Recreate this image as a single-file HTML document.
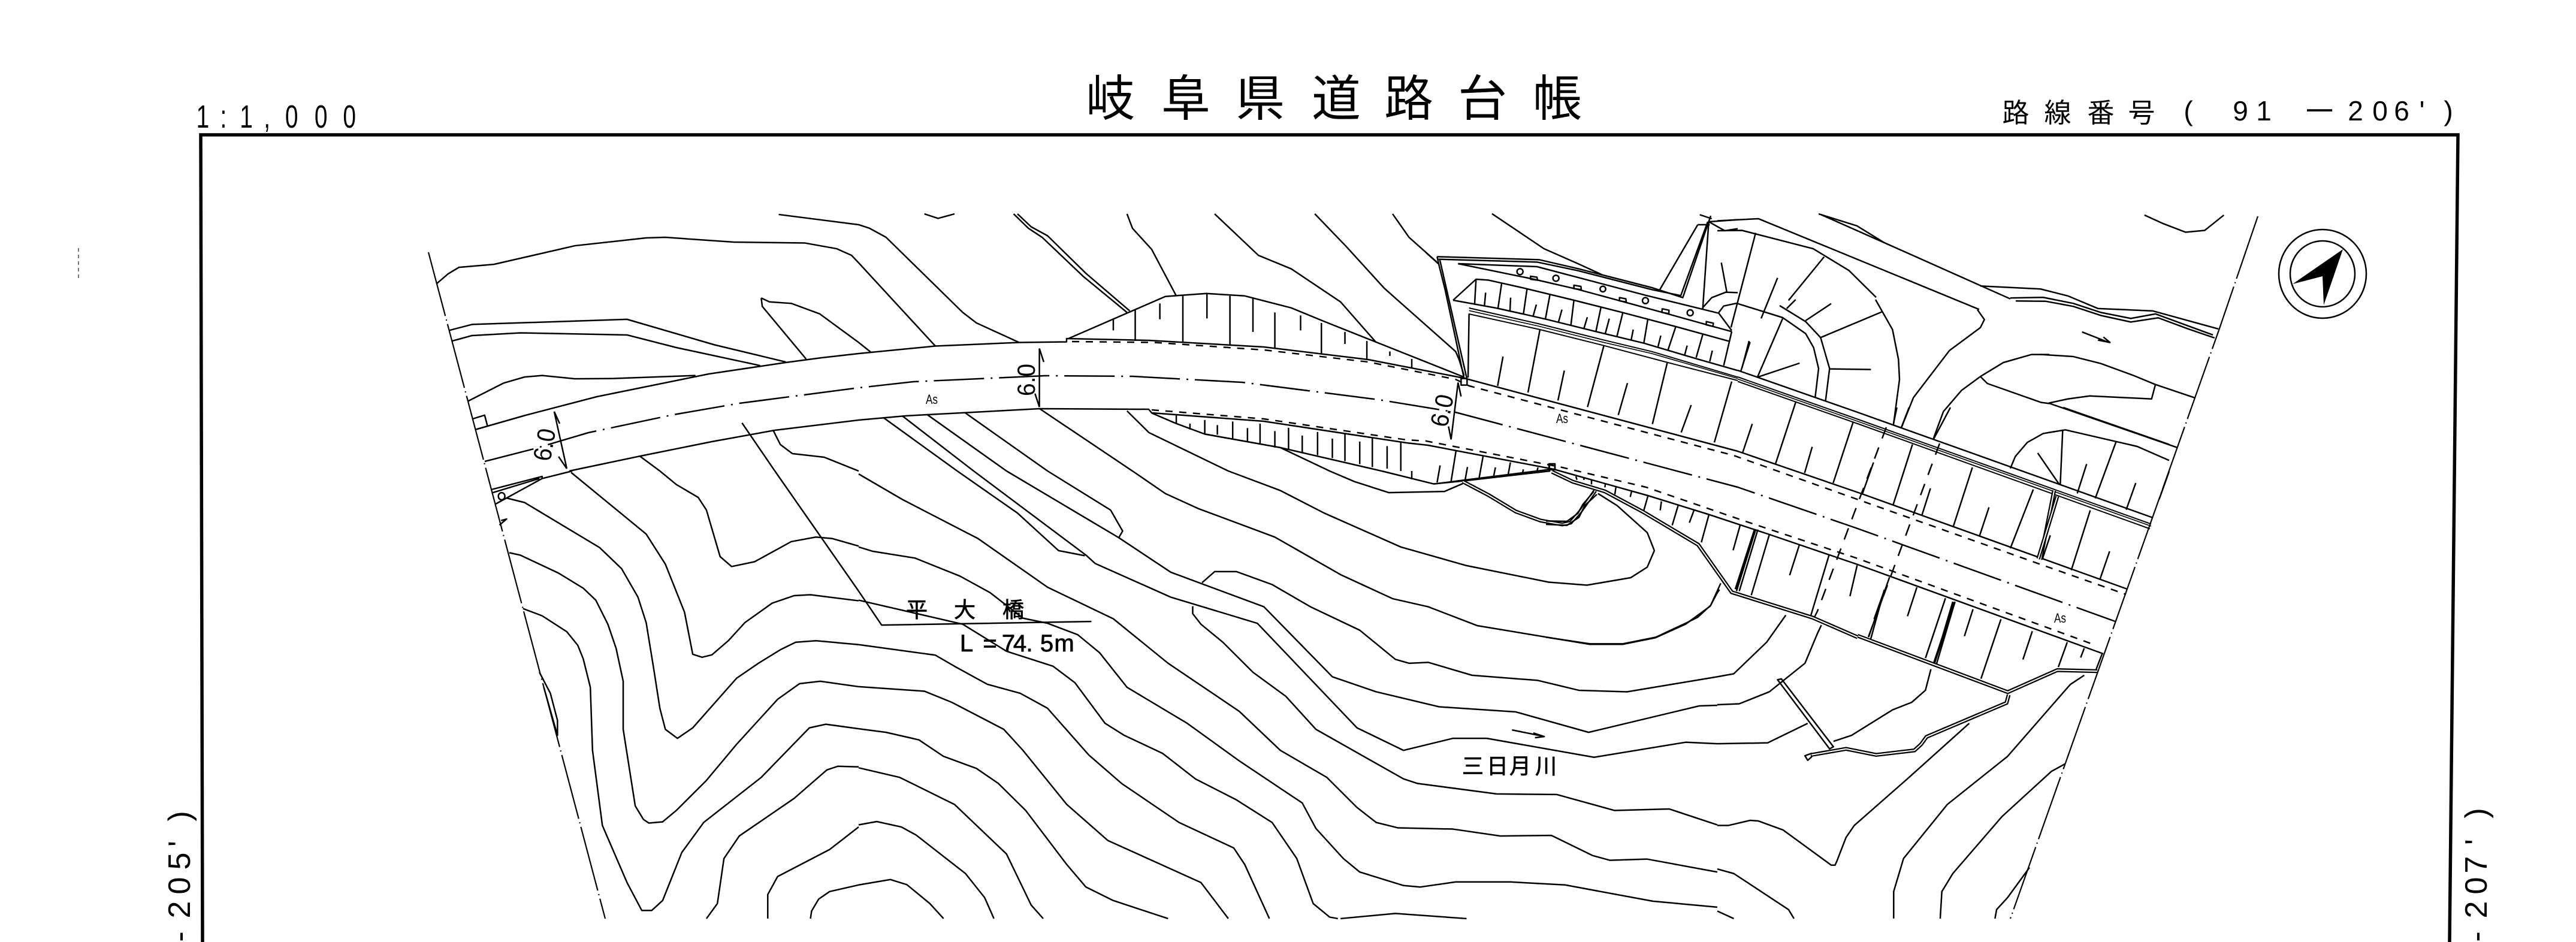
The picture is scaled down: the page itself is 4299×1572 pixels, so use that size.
<!DOCTYPE html>
<html lang="ja"><head><meta charset="utf-8"><title>岐阜県道路台帳</title>
<style>
html,body{margin:0;padding:0;background:#fff}
svg{display:block}
path,ellipse,rect,line,use{vector-effect:non-scaling-stroke}
.l path,.l rect,.l ellipse{fill:none;stroke:#000;stroke-width:2.5;stroke-linejoin:round}
.k{fill:none;stroke:#000;stroke-width:6.5}
.w{fill:none;stroke:#fff;stroke-width:2}
text{fill:#000;font-family:"Liberation Sans","Noto Sans CJK JP",sans-serif}
.j{font-family:"Noto Sans CJK JP","Liberation Sans",sans-serif;text-anchor:middle}
.c{text-anchor:middle}
.b{stroke:#000;stroke-width:.8}
</style></head><body>
<svg xmlns="http://www.w3.org/2000/svg" width="4299" height="1572" viewBox="0 0 4299 1572">
<rect width="4299" height="1572" fill="#fff"/>
<path d="M338 1572 335 225 4102 225 4088 1572" fill="none" stroke="#000" stroke-width="5.5"/>
<path d="M131 414V466" stroke="#777" stroke-width="2" stroke-dasharray="6 5" fill="none"/>

<defs>
<path id="st1" d="M1103 35 1150 80 1200 135 1245 165 1285 178 1300 172 1320 130 1345 65"/>
<path id="st2" d="M532 745 528 772 382 885 372 910 360 930 290 945 235 925 172 945"/>
<path id="wa1" d="M30 262 135 312 295 360 485 462 762 627 930 865 1335 992 1560 1090"/>
<path id="wa2" d="M0 1143 752 1425 1000 1315 1200 1320"/>
<path id="wa3" d="M1000 445 905 757"/>
<path id="wa4" d="M615 65 590 295"/>
</defs>

<!-- global-coordinate lines -->
<g class="l">
<path d="M715 421 1010 1533" stroke-dasharray="110 6 2 6" style="stroke-width:2.2"/>
<path d="M3768 361 3703 551 3355 1533" stroke-dasharray="110 6 2 6" style="stroke-width:2.2"/>
<path d="M809 770 891 749 982 722 1124 692 1234 673 1426 648 1524 637 1744 627 1890 628 2073 638 2301 667 2429 688 2900 813 3100 882 3530 1037" stroke-dasharray="84 11 3 11"/>
<path d="M1789 570 1927 571.5 2109 584 2283 604 2429 633 2452 644 2893 760 3420 947 3548 992" stroke-dasharray="12 11"/>
<path d="M1922 684 2109 699 2347 734 2380 736 2607 780 2747 813 2913 870 3100 932 3498 1077" stroke-dasharray="12 11"/>
<path d="M793 717 877 693 996 662 1183 624 1311 605 1371 597 1433 590 1561 577.5 1701 571.5 1780 570.5 1780 565 1917 568 2109 579 2283 600 2443 631 2900 753 3107 824 3550 983"/>
<path d="M950 786 1069 761 1188 737 1293 718 1433 701 1511 694 1735 682 1917 683 1922 689 2109 703 2347 739 2383 743 2593 783 2750 827 2850 858 2953 892 3100 942 3510 1091"/>
<path d="M3148 713 3033 1020 3028 1030" stroke-dasharray="20 16"/>
<path d="M3237 740 3118 1063" stroke-dasharray="20 16"/>
<path d="M2900 618 3100 688 3593 864"/>
<path d="M2900 629 3100 699.5 3590 874.5" style="stroke-width:2"/>
<path d="M2900 632.5 3100 703 3590 878" style="stroke-width:1.6"/>
<path d="M2900 636.5 3100 707 3588 882.5" style="stroke-width:2"/>
</g>

<!-- tile 1 -->
<g class="l" transform="translate(0 0) scale(.9139 .5013)">
<path d="M797 945 818 912 838 890 902 880 1050 818 1180 792 1215 790 1340 806 1470 809 1528 828 1555 850 1568 875"/>
<path d="M1422 714 1568 748"/>
<path d="M1390 992 1405 1005 1445 1010 1497 1045 1568 1140"/>
<path d="M1390 992 1392 1020 1472 1195"/>
<path d="M820 1100 862 1080 1145 1063 1305 1148 1435 1205"/>
<path d="M826 1135 862 1117 950 1108 1145 1115 1235 1157 1388 1217"/>
<path d="M855 1335 920 1275 958 1255 990 1250 1050 1261 1120 1260 1270 1250"/>
<path d="M862 1395 885 1382 890 1417"/>
<path d="M1355 1408 1415 1568"/>
<path d="M1412 1433 1425 1480 1447 1510 1505 1522 1568 1568"/>
<path d="M1168 1518 1205 1568"/>
<path d="M1012 1370 1035 1560M1012 1370 1022 1410M1035 1560 1020 1520"/>
</g>

<!-- tile 2 -->
<g class="l" transform="translate(1433 0) scale(.9139 .5013)">
<path d="M0 748 20 760 50 790 190 1040 215 1075 293 1140"/>
<path d="M0 875 140 1152"/>
<path d="M0 1140 22 1172"/>
<path d="M120 712 145 727 175 712"/>
<path d="M283 712 310 760 335 790 410 920 490 1040"/>
<path d="M290 712 315 755 345 785 415 910 495 1035"/>
<path d="M490 712 500 760 535 830 580 985"/>
<path d="M650 712 730 850 790 895 880 1005 945 1140"/>
<path d="M833 712 890 820 960 960 1090 1170"/>
<path d="M975 712 1005 790 1055 871"/>
<path d="M383 1127 560 987 635 977 705 985 790 1025 850 1070 1105 1255"/>
<path d="M505 1030V1135M592 985V1138M678 985V1150M760 1040V1160M845 1075V1180M928 1135V1198M1010 1195V1225M465 1060V1100M550 1010V1063M636 977V1060M720 990V1105M807 1050V1100M888 1105V1145M970 1170V1185"/>
<path d="M330 1160V1355M330 1160 338 1205M330 1355 322 1310"/>
<path d="M45 1390 180 1568M80 1385 210 1568M125 1380 270 1568M195 1375 345 1568M330 1360 500 1568M490 1368 530 1440 675 1568M632 1445 770 1490 860 1568"/>
<path d="M535 1375 580 1410 632 1445 770 1490 955 1568"/>
<path d="M580 1383V1410M632 1398V1445M683 1403V1462M733 1410V1480M785 1424V1497M838 1438V1515M888 1445V1535M938 1458V1555M990 1472V1568M605 1410V1430M655 1415V1447M710 1425V1470M760 1435V1490M810 1450V1505M865 1460V1525M915 1470V1545M965 1485V1560"/>
</g>

<!-- tile 3 -->
<g class="l" transform="translate(2866 0) scale(.9139 .5013)">
<path d="M0 735 75 728 478 1030"/>
<path d="M0 768 45 767 175 828 240 900 290 990"/>
<path d="M190 715 305 808 535 995"/>
<path d="M185 712 255 752 305 808"/>
<path d="M480 952 590 962 640 985 695 1027 795 1035 915 1095"/>
<path d="M535 992 595 990 650 1010 700 1040 755 1060 800 1045 860 1085 905 1115"/>
<path d="M545 1002 600 1003 650 1020 700 1050 755 1072 805 1058 860 1095 908 1125"/>
<path d="M666 1105 715 1140M695 1132 717 1140 705 1122"/>
<path d="M780 716 815 745 855 773 890 767 925 716"/>
<path d="M590 1180 650 1187 700 1210 760 1250 800 1280 873 1325"/>
<path d="M605 1342 840 1490"/>
<path d="M605 1342 640 1328 680 1318 793 1328 800 1280"/>
<path d="M70 775 25 1090M195 855 130 1000M110 925 80 1060M58 1135 45 1225"/>
</g>

<!-- tile 4 -->
<g class="l" transform="translate(0 786) scale(.9139 .5013)">
<path d="M1045 0 990 25 905 110M897 62 990 18 990 25M900 72 985 25"/>
<ellipse cx="916" cy="84" rx="6" ry="12"/>
<path d="M912 180 925 160 915 165"/>
<path d="M1043 5 1180 210 1215 310 1250 470 1265 610 1282 620 1300 612 1330 565 1360 505 1410 440 1450 415 1480 412 1568 432"/>
<path d="M925 90 958 105 1095 255 1135 325 1165 420 1180 505 1193 650 1205 790 1215 860 1237 890 1265 855 1345 690 1385 640 1425 595 1453 570 1490 565 1568 578"/>
<path d="M1205 0 1235 45 1275 88 1290 130 1315 285 1336 318 1378 302 1445 235 1490 220 1520 225 1568 250"/>
<path d="M930 272 950 280 1020 340 1065 390 1088 430 1110 510 1125 590 1138 700 1138 860 1160 1115 1175 1160 1185 1172 1210 1168 1235 1130 1290 1030 1345 910 1420 760 1460 708 1498 700 1568 718"/>
<path d="M955 458 990 482 1035 535 1055 580 1065 625 1078 720 1082 930 1100 1180 1145 1370 1172 1463 1190 1463 1210 1430 1245 1270 1285 1170 1390 1020 1478 855 1508 843 1568 858"/>
<path d="M985 670 1005 740 1018 830 1018 880 993 720"/>
<path d="M1290 1490 1310 1440 1322 1290 1350 1215 1450 1090 1510 995 1530 983 1568 985"/>
<path d="M1402 1490 1402 1410 1420 1350 1515 1260 1568 1185"/>
<path d="M1480 1490 1482 1465 1495 1425 1515 1400 1568 1378"/>
<path d="M1415 0 1568 400"/>
</g>

<!-- tile 5 -->
<g class="l" transform="translate(1433 786) scale(.9139 .5013)">
<path d="M0 400 42 513 425 501"/>
<path d="M0 10 80 95 218 225 345 387 465 492 565 640 695 800 770 930 855 1020 910 1120 945 1170 985 1188 1085 1192 1172 1215 1265 1213 1340 1280 1372 1296 1440 1292 1568 1335"/>
<path d="M0 253 25 267 103 290 185 350 240 405 300 490 345 507 400 545 440 605 490 720 600 840 695 965 810 1105 835 1190 885 1290 915 1335 995 1380 1025 1385 1090 1368 1190 1368 1290 1378 1450 1432 1568 1452"/>
<path d="M0 430 190 510 270 600 355 650 395 705 450 840 485 880 555 940 615 1025 690 1095 755 1170 800 1290 830 1440 860 1485 875 1490"/>
<path d="M0 578 140 613 175 650 235 710 295 740 345 790 420 945 480 1040 585 1170 685 1255 705 1310 750 1490"/>
<path d="M0 718 120 733 170 770 265 860 300 930 380 1110 455 1230 625 1370 675 1490"/>
<path d="M0 858 50 870 110 895 155 950 215 990 255 1040 305 1130 380 1310 415 1385 465 1430 565 1490"/>
<path d="M0 988 75 1020 175 1110 270 1275 315 1445 337 1490"/>
<path d="M0 1178 33 1167 78 1185 105 1212 195 1340 230 1420 247 1490"/>
<path d="M0 1378 58 1360 88 1377 130 1440 155 1490"/>
<path d="M880 1490 980 1473 1110 1490"/>
<path d="M500 0 560 75 620 125 760 220 880 345 975 425 1040 452 1130 515 1335 577 1395 577 1455 555 1510 510 1555 450 1568 405 1572 395"/>
<path d="M675 0 770 65 850 140 990 253 1110 315 1260 370 1330 380 1410 355 1440 320 1453 265 1440 205 1385 115 1350 75"/>
<path d="M270 0 475 222 570 337 740 452 865 685 945 735 1060 785 1200 802 1333 870 1535 782 1568 780"/>
<path d="M210 0 415 280 432 308 570 420 728 507 910 855 995 930 1085 890 1147 890 1343 953 1510 903 1568 908"/>
<path d="M627 372 650 335 690 335 755 378 825 452 915 530 980 627 1005 640 1040 637 1120 680 1240 697 1315 730 1403 735 1568 685"/>
<path d="M610 450 610 475 625 510 665 570 720 670 780 750 835 860 995 1025 1020 1040 1165 1075 1275 1077 1380 1130 1480 1125 1568 1178"/>
<path d="M180 0 290 140 365 265 413 282"/>
<path d="M345 0 460 130 482 200 475 222"/>
<path d="M860 0 905 35 968 72 1070 68 1103 42"/>
<path d="M955 0 1050 43 1105 33 1263 0"/>
<path d="M1010 0V28"/>
<path d="M1193 862 1250 883M1232 872 1252 884 1235 888"/>
<use href="#st1" class="k"/><use href="#st1" class="w"/>
</g>

<!-- tile 6 -->
<g class="l" transform="translate(2866 786) scale(.9139 .5013)">
<path d="M0 685 30 675 90 570 125 480"/>
<path d="M0 778 40 775 95 735 160 640 183 540 190 513"/>
<path d="M0 908 92 905 165 840"/>
<path d="M212 900 245 880 320 795 355 770 380 730 390 660"/>
<path d="M460 840 350 1020 250 1180 235 1220 218 1300 215 1312 208 1312 120 1195 75 1165 60 1163 20 1180 0 1180"/>
<path d="M670 680 645 710 640 720 530 950 420 1110 340 1290 322 1400 322 1490"/>
<path d="M635 975 610 1000 520 1150 430 1340 410 1400 407 1490"/>
<path d="M570 1320 530 1420 510 1460 507 1490"/>
<path d="M0 1325 30 1340 130 1460 140 1490"/>
<path d="M0 1465 30 1490"/>
<path d="M110 695 117 692 212 918 205 925Z"/>
<path d="M172 940 160 948 165 963 172 952Z"/>
<path d="M70 195 35 400M74 195 40 400"/>
<path d="M430 435 395 650M434 435 399 650"/>
<path d="M305 395 280 560"/>
<use href="#st2" class="k"/><use href="#st2" class="w"/>
<use href="#wa4" class="k"/><use href="#wa4" class="w"/>
</g>

<!-- detail north structure -->
<g class="l" transform="translate(2380 340) scale(.33333)">
<path d="M55 265 565 280 760 325 1130 420 1285 470 1425 60"/>
<path d="M62 278 555 292 760 335 1130 430 1275 460 1410 90"/>
<path d="M330 50 590 225 760 300 880 355"/>
<path d="M55 265 65 310 95 430 140 640 190 875"/>
<path d="M68 278 105 440 150 640 205 880"/>
<path d="M0 245 50 290 60 300"/>
<path d="M147 738 165 780 190 860"/>
<path d="M210 870 215 550"/>
<path d="M160 300 555 315 1098 458 1465 548 1530 635"/>
<path d="M160 300 540 378 757 428 985 490 1198 548 1420 610 1530 640"/>
<path d="M135 483 250 378 310 382 480 420 740 483 985 545 1250 615 1515 688"/>
<path d="M135 483 350 522 490 553 600 578 850 640 1090 698 1350 775 1560 835"/>
<path d="M250 378 243 500"/>
<path d="M215 522 560 600 880 680 1130 740 1560 868" style="stroke-width:2"/>
<path d="M215 535 560 612 880 692 1130 750 1560 875" style="stroke-width:1.6"/>
<path d="M215 552 570 630 890 710 1210 795 1560 885" style="stroke-width:2"/>
<path d="M378 400 360 522M505 428 487 553M620 455 597 578M740 483 725 607M875 520 850 640M985 545 955 665M1110 578 1090 698M1250 615 1210 735M1385 655 1352 770M1530 640 1490 810"/>
<path d="M298 445 292 510M423 470 420 535M552 505 535 565M680 530 662 595M807 568 790 625M917 575 897 650M1037 630 1027 680M1175 660 1160 720M1307 710 1295 755M1433 735 1420 790"/>
<path d="M570 630 510 945M385 765 358 912M692 835 660 985M890 710 808 1018M1008 898 962 1058M1207 797 1133 1103M1327 1008 1277 1145M1530 890 1443 1195"/>
<rect x="175" y="875" width="30" height="33"/>
<rect x="617" y="1303" width="28" height="28"/>
<path d="M160 895 125 1180M160 895 175 965M125 1180 112 1115"/>
<path d="M70 1310 55 1395M150 1235 125 1390M207 1318 195 1385M285 1265 265 1375M347 1320 338 1365M422 1295 410 1360M487 1330 482 1350M560 1320 555 1340"/>
<path d="M40 1403 180 1385 620 1330"/>
<path d="M1415 90 1385 525M1370 55 1430 75M1415 90 1495 135 1560 125M1415 90 1490 85 1560 80M1360 105 1170 430M1360 105 1420 105M1478 295 1505 440"/>
<path d="M1465 545 1490 512 1560 497"/>
<path d="M1385 520 1430 470 1500 443 1560 445"/>
<ellipse cx="470" cy="340" rx="15" ry="15"/><ellipse cx="650" cy="373" rx="15" ry="15"/><ellipse cx="885" cy="427" rx="14" ry="14"/><ellipse cx="1098" cy="485" rx="15" ry="15"/><ellipse cx="1322" cy="546" rx="15" ry="15"/>
<path d="M523 363 555 368 558 383 523 378ZM740 408 775 414 777 430 740 425ZM968 470 1000 476 1002 492 968 486ZM1182 526 1216 533 1215 550 1180 544ZM1403 590 1438 598 1436 614 1402 606Z"/>
</g>

<!-- detail centre -->
<g class="l" transform="translate(2900 500) scale(.33333)">
<path d="M0 20 225 90 340 170 380 240 405 345 388 488"/>
<path d="M210 30 340 110 415 190 460 345 440 505"/>
<path d="M340 105 468 20M415 190 725 60M460 347 667 350M245 45 290 0M225 95 100 385M310 318 100 388M62 212 15 360"/>
<path d="M690 0 775 150 805 300 810 400 780 625"/>
<path d="M820 640 880 490 1060 255 1215 140 1235 100 1200 50"/>
<path d="M980 695 1030 560 1120 455 1215 385 1330 315 1470 275 1560 275"/>
<path d="M1215 385 1250 420 1520 515 1560 520"/>
<path d="M290 515 190 820M73 622 25 765M578 613 478 918M373 737 335 868"/>
<path d="M680 815 625 970"/>
</g>

<!-- detail east -->
<g class="l" transform="translate(3100 680) scale(.33333)">
<path d="M765 305 790 245 850 175 930 130 1040 112 1400 195 1560 265"/>
<path d="M1030 0 1560 185"/>
<path d="M1027 115 1015 385M902 228 1010 385M1295 170 1190 455M1147 283 1100 430M1393 378 1345 512M1560 320 1510 460"/>
<path d="M180 80 197 0M220 98 258 0M380 160 465 0"/>
<path d="M880 410 765 705M965 640 925 760M1165 515 1070 815M1262 720 1213 862M575 300 478 600M658 500 610 645M275 185 178 488M365 405 322 540"/>
<path d="M440 955 340 1255M578 1010 535 1145M718 1060 618 1358M875 1120 828 1262M1050 1175 1005 1300M1135 1205 1117 1252M297 900 250 1045M160 850 55 1150"/>
<path d="M135 920 85 1060" style="stroke-width:4"/>
<path d="M1225 1232 1195 1310"/>
<use href="#wa3" class="k"/><use href="#wa3" class="w"/>
<path d="M485 975 380 1290" style="stroke-width:4"/>
<use href="#wa2" class="k"/><use href="#wa2" class="w"/>
</g>

<!-- detail south wall -->
<g class="l" transform="translate(2580 700) scale(.33333)">
<use href="#wa1" class="k"/><use href="#wa1" class="w"/>
<rect x="15" y="222" width="30" height="30"/>
<path d="M0 508 105 510 160 470 185 425 240 360M0 525 105 530 165 490 195 430 255 375"/>
<path d="M150 285 155 302M190 290 190 303M228 300 228 325M297 325 295 340M350 340 345 375M430 355 422 388M510 385 490 455M578 410 572 455M662 430 632 530M742 452 718 517M815 480 778 615M972 530 937 655M1118 578 1028 880M1268 630 1220 780M1417 680 1325 985M1558 730 1522 885"/>
<path d="M1045 555 950 850" style="stroke-width:4"/>
<path d="M875 820 825 930 760 990 700 1020 550 1090 385 1123 220 1123 0 1090" />
</g>

<!-- compass -->
<g class="l"><ellipse cx="3876" cy="457" rx="73" ry="74"/><ellipse cx="3876" cy="457" rx="54" ry="55"/></g>
<path d="M3910 416 3826 474 3876 461 3878 509Z" fill="#000"/>

<!-- titles -->
<text class="j" font-size="82" y="193" x="1853 1979 2103 2230 2351 2474 2599">岐阜県道路台帳</text>
<text transform="translate(0 213) scale(.72 1)" class="c" font-size="54" x="470 518 571 619 676 744 810">1:1,000</text>
<text class="j" font-size="45" y="204" x="3364 3434 3506 3574">路線番号</text>
<text class="c" font-size="46" y="201" x="3652 3739 3778 3931 3972 4008 4042 4086">(91206')</text>
<text class="j" font-size="46" y="202" x="3871">一</text>

<!-- side labels -->
<g class="c" font-size="52">
<text transform="translate(317 1362) rotate(-90)" class="c">)</text>
<text transform="translate(317 1408) rotate(-90)" class="c">'</text>
<text transform="translate(317 1437) rotate(-90)" class="c">5</text>
<text transform="translate(317 1478) rotate(-90)" class="c">0</text>
<text transform="translate(317 1518) rotate(-90)" class="c">2</text>
<text transform="translate(317 1563) rotate(-90)" class="c">-</text>
<text transform="translate(4150 1357) rotate(-90)" class="c">)</text>
<text transform="translate(4150 1405) rotate(-90)" class="c">'</text>
<text transform="translate(4150 1443) rotate(-90)" class="c">7</text>
<text transform="translate(4150 1478) rotate(-90)" class="c">0</text>
<text transform="translate(4150 1518) rotate(-90)" class="c">2</text>
<text transform="translate(4150 1563) rotate(-90)" class="c">-</text>
</g>

<!-- dims -->
<g font-size="42">
<text transform="translate(908 742) rotate(-80)" class="c" y="15" textLength="54" lengthAdjust="spacingAndGlyphs">6.0</text>
<text transform="translate(1712 634) rotate(-90)" class="c" y="15" textLength="54" lengthAdjust="spacingAndGlyphs">6.0</text>
<text transform="translate(2406 685) rotate(-78)" class="c" y="15" textLength="54" lengthAdjust="spacingAndGlyphs">6.0</text>
</g>
<g font-size="22" class="c">
<text x="1555" y="674" class="c" textLength="20" lengthAdjust="spacingAndGlyphs">As</text>
<text x="2607" y="706" class="c" textLength="20" lengthAdjust="spacingAndGlyphs">As</text>
<text x="3438" y="1039" class="c" textLength="20" lengthAdjust="spacingAndGlyphs">As</text>
</g>

<!-- place names -->
<text class="j b" font-size="36" y="1030" x="1530 1610 1691">平大橋</text>
<text class="c b" font-size="40" y="1087" x="1613 1652 1683 1702 1718 1747 1776">L=74.5m</text>
<text class="j b" font-size="36" y="1291" x="2458 2499 2537 2580">三日月川</text>
</svg>
</body></html>
